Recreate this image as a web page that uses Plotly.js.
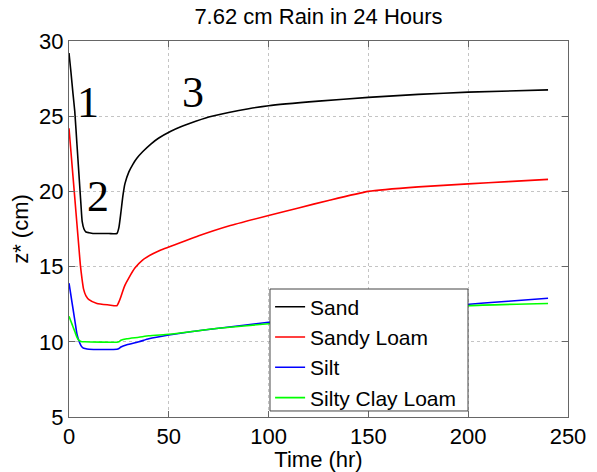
<!DOCTYPE html>
<html>
<head>
<meta charset="utf-8">
<script src="https://cdn.plot.ly/plotly-3.0.1.min.js"></script>
<style>html,body{margin:0;padding:0;background:#fff;}#chart{width:597px;height:472px;}</style>
</head>
<body>
<div id="chart"></div>
<script>
// ---- data ----
const seriesNames = ["Sand", "Sandy Loam", "Silt", "Silty Clay Loam"];

const sandTime = [0, 1, 2, 2.9, 4, 5, 6, 6.6, 7.5, 8.5, 10, 12, 16, 20, 24, 25, 26, 27, 28, 30, 32, 34, 37, 41, 45, 51, 56, 60, 70, 80, 90, 100, 125, 150, 175, 200, 240];
const sandZ    = [29.2, 27.9, 26.5, 25.3, 23.1, 21.1, 19.1, 18.0, 17.5, 17.3, 17.25, 17.2, 17.2, 17.2, 17.2, 17.6, 18.6, 19.7, 20.5, 21.3, 21.8, 22.2, 22.65, 23.15, 23.55, 24.0, 24.3, 24.5, 24.95, 25.25, 25.5, 25.7, 26.0, 26.25, 26.45, 26.6, 26.75];

const loamTime = [0, 1, 2, 3, 4, 5, 5.7, 6.5, 7.3, 8.5, 10, 14, 20, 24, 25, 26, 27, 28, 30, 33, 37, 42, 46, 50, 56, 65, 80, 100, 115, 130, 150, 175, 200, 220, 240];
const loamZ    = [24.2, 22.6, 21.0, 19.4, 17.8, 16.2, 15.1, 14.2, 13.5, 13.05, 12.8, 12.55, 12.45, 12.4, 12.65, 13.0, 13.4, 13.75, 14.25, 14.9, 15.45, 15.85, 16.1, 16.3, 16.6, 17.05, 17.7, 18.4, 18.9, 19.4, 20.0, 20.3, 20.5, 20.65, 20.8];

const siltTime = [0, 1, 2, 3, 4, 5, 6, 7, 8, 10, 24, 25, 26, 29, 35, 40, 50, 60, 75, 100, 125, 150, 175, 196, 220, 240];
const siltZ    = [13.9, 13.05, 12.2, 11.35, 10.5, 10.05, 9.75, 9.6, 9.55, 9.5, 9.5, 9.55, 9.65, 9.8, 10.0, 10.2, 10.45, 10.65, 10.9, 11.3, 11.6, 11.9, 12.2, 12.45, 12.7, 12.9];

const sclTime = [0, 1, 2, 3, 4, 5, 6, 8, 24, 25, 26, 29, 35, 40, 50, 60, 75, 100, 125, 150, 175, 200, 240];
const sclZ    = [11.7, 11.35, 11.0, 10.65, 10.3, 10.1, 10.02, 10.0, 9.97, 10.0, 10.1, 10.2, 10.3, 10.4, 10.5, 10.65, 10.9, 11.2, 11.5, 11.8, 12.1, 12.4, 12.55];

const xTicks = [0, 50, 100, 150, 200, 250];
const yTicks = [5, 10, 15, 20, 25, 30];
const regionLabels = ["1", "2", "3"];
const regionX = [9.5, 14.5, 62];
const regionY = [25.9, 19.65, 26.55];

// ---- chart ----
const colors = ["#000000", "#ff0000", "#0000ff", "#00ff00"];
const xs = [sandTime, loamTime, siltTime, sclTime];
const ys = [sandZ, loamZ, siltZ, sclZ];
const traces = seriesNames.map((n, i) => ({
  type: "scatter", mode: "lines", name: n,
  x: xs[i], y: ys[i],
  line: {color: colors[i], width: 1.6, shape: "spline", smoothing: 0.5}
}));

const font = {family: "Liberation Sans, Arial, Helvetica, sans-serif", size: 22, color: "#000"};
const axisCommon = {
  showline: true, linecolor: "#666", linewidth: 1, mirror: "ticks",
  ticks: "inside", ticklen: 6, tickcolor: "#666",
  showgrid: true, gridcolor: "#c4c4c4", griddash: "dot", gridwidth: 1,
  zeroline: false, tickfont: font, fixedrange: true
};

const layout = {
  width: 597, height: 472,
  margin: {l: 69, r: 29, t: 41, b: 55},
  paper_bgcolor: "#fff", plot_bgcolor: "#fff",
  font: font,
  title: {text: "7.62 cm Rain in 24 Hours", font: font, x: 0.5, xref: "paper", y: 0.966, yref: "container", yanchor: "middle"},
  xaxis: Object.assign({}, axisCommon, {
    range: [0, 250], tickvals: xTicks, ticktext: xTicks.map(String),
    title: {text: "Time (hr)", font: font, standoff: 0}
  }),
  yaxis: Object.assign({}, axisCommon, {
    range: [5, 30], tickvals: yTicks, ticktext: yTicks.map(String),
    title: {text: "z* (cm)", font: font, standoff: 4}
  }),
  showlegend: true,
  legend: {
    x: 0.403, y: 0.347, xanchor: "left", yanchor: "top",
    bgcolor: "rgba(0,0,0,0)", borderwidth: 0,
    font: Object.assign({}, font, {size: 21}), itemwidth: 30, tracegroupgap: 0
  },
  shapes: [{
    type: "rect", xref: "paper", yref: "paper", layer: "above",
    x0: 0.4028, x1: 0.7996, y0: 0.016, y1: 0.3404,
    fillcolor: "#fff", line: {color: "#444", width: 1}
  }],
  annotations: regionLabels.map((t, i) => ({
    text: t, x: regionX[i], y: regionY[i], xref: "x", yref: "y",
    showarrow: false, xanchor: "center", yanchor: "middle",
    font: {family: "Liberation Serif, Times New Roman, serif", size: 44, color: "#000"}
  }))
};

Plotly.newPlot("chart", traces, layout, {displayModeBar: false, staticPlot: true});
</script>
</body>
</html>
